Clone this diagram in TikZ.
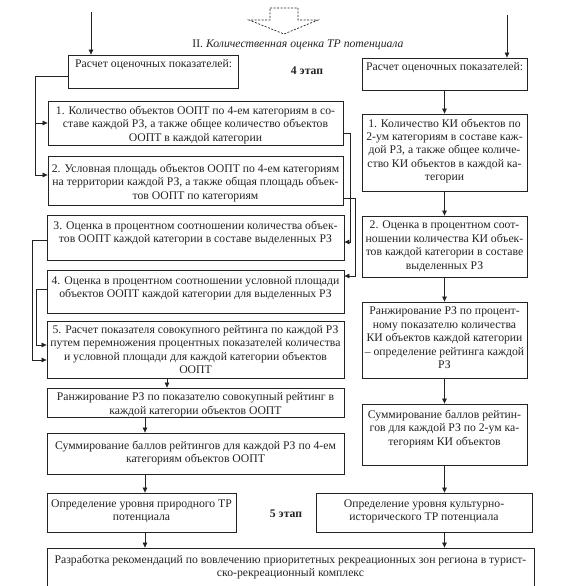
\documentclass[tikz,border=0pt]{standalone}
\usepackage{fontspec}
\setmainfont{Liberation Serif}
\usetikzlibrary{arrows.meta}
\definecolor{ink}{RGB}{35,35,35}
\newcommand\fsz{\fontsize{11.7}{13.4}\selectfont}
\tikzset{
  bx/.style={draw=ink, line width=0.8pt, inner sep=0pt},
  tx/.style={anchor=north, align=center, inner sep=0pt, font=\fsz, text=ink},
  ln/.style={draw=ink, line width=0.7pt},
  arr/.style={ln, -{Triangle[length=5pt,width=4.5pt]}},
}
\begin{document}
\begin{tikzpicture}[x=1pt,y=-1pt]
\useasboundingbox (0,0) rectangle (585,586);
\clip (0,0) rectangle (585,586);
% header
\draw[ink, line width=0.7pt, dash pattern=on 2pt off 1.5pt]
  (270,8) -- (298,8) -- (298,20) -- (318,20) -- (284,34) -- (249,20) -- (270,20) -- cycle;
\node[font=\fsz, text=ink, inner sep=0pt] (hdr) at (298,45) {II. \textit{Количественная оценка ТР потенциала}};
\node[font=\fsz\bfseries, text=ink, inner sep=0pt] (st4) at (307,71) {4 этап};
\node[font=\fsz\bfseries, text=ink, inner sep=0pt] (st5) at (286,514) {5 этап};

% left column boxes
\node[bx, minimum width=170pt, minimum height=33pt] (lb0) at (153,71.5) {};
\node[tx, anchor=north west] (tlb0) at (75,59) {Расчет оценочных показателей:};

\node[bx, minimum width=295pt, minimum height=44pt] (b1) at (195.5,123) {};
\node[tx] (tb1) at (195.5,106) {1. Количество объектов ООПТ по 4-ем категориям в со-\\ставе каждой РЗ, а также общее количество объектов\\ООПТ в каждой категории};

\node[bx, minimum width=295pt, minimum height=49pt] (b2) at (195.5,180.5) {};
\node[tx] (tb2) at (195.5,164) {2. Условная площадь объектов ООПТ по 4-ем категориям\\на территории каждой РЗ, а также общая площадь объек-\\тов ООПТ по категориям};

\node[bx, minimum width=297pt, minimum height=45pt] (b3) at (195.5,237.5) {};
\node[tx] (tb3) at (195.5,221) {3. Оценка в процентном соотношении количества объек-\\тов ООПТ каждой категории в составе выделенных РЗ};

\node[bx, minimum width=297pt, minimum height=43pt] (b4) at (195.5,291.5) {};
\node[tx] (tb4) at (195.5,276) {4. Оценка в процентном соотношении условной площади\\объектов ООПТ каждой категории для выделенных РЗ};

\node[bx, minimum width=297pt, minimum height=57pt] (b5) at (195.5,349.5) {};
\node[tx] (tb5) at (195.5,325) {5. Расчет показателя совокупного рейтинга по каждой РЗ\\путем перемножения процентных показателей количества\\и условной площади для каждой категории объектов\\ООПТ};

\node[bx, minimum width=297pt, minimum height=29pt] (rk) at (195.5,402.5) {};
\node[tx] (trk) at (195.5,392.5) {Ранжирование РЗ по показателю совокупный рейтинг в\\каждой категории объектов ООПТ};

\node[bx, minimum width=297pt, minimum height=41pt] (sm) at (195.5,453.5) {};
\node[tx] (tsm) at (195.5,441) {Суммирование баллов рейтингов для каждой РЗ по 4-ем\\категориям объектов ООПТ};

\node[bx, minimum width=189pt, minimum height=39pt] (lo) at (141.5,512.5) {};
\node[tx] (tlo) at (141.5,499.5) {Определение уровня природного ТР\\потенциала};

\node[bx, minimum width=216pt, minimum height=39pt] (ro) at (424,512.5) {};
\node[tx] (tro) at (424,499.5) {Определение уровня культурно-\\исторического ТР потенциала};

\node[bx, minimum width=487pt, minimum height=52pt] (bt) at (290.5,574) {};
\node[tx] (tbt) at (290.5,555) {Разработка рекомендаций по вовлечению приоритетных рекреационных зон региона в турист-\\ско-рекреационный комплекс};

% right column boxes
\node[bx, minimum width=165pt, minimum height=32pt] (rb0) at (444.5,74) {};
\node[tx, anchor=north west] (trb0) at (366,62) {Расчет оценочных показателей:};

\node[bx, minimum width=165pt, minimum height=77pt] (rb1) at (444.5,152.5) {};
\node[tx] (trb1) at (444.5,118.5) {1. Количество КИ объектов по\\2-ум категориям в составе каж-\\дой РЗ, а также общее количе-\\ство КИ объектов в каждой ка-\\тегории};

\node[bx, minimum width=165pt, minimum height=61pt] (rb2) at (444.5,246.5) {};
\node[tx] (trb2) at (444.5,221) {2. Оценка в процентном соот-\\ношении количества КИ объек-\\тов каждой категории в составе\\выделенных РЗ};

\node[bx, minimum width=165pt, minimum height=76pt] (rb3) at (444.5,340) {};
\node[tx] (trb3) at (444.5,307) {Ранжирование РЗ по процент-\\ному показателю количества\\КИ объектов каждой категории\\– определение рейтинга каждой\\РЗ};

\node[bx, minimum width=165pt, minimum height=61pt] (rb4) at (444.5,434.5) {};
\node[tx] (trb4) at (444.5,410) {Суммирование баллов рейтин-\\гов для каждой РЗ по 2-ум ка-\\тегориям КИ объектов};

% connectors
\coordinate (s1) at (91,12);
\coordinate (s2) at (507,15);
\draw[arr] (s1) -- (s1 |- lb0.north);
\draw[arr] (s2) -- (s2 |- rb0.north);

\coordinate (c0) at (35,76);
\draw[ln] ([yshift=-4.5pt]lb0.west) -- (c0);
\draw[arr] (c0) |- (b1.west);
\draw[arr] (c0) |- ([yshift=5.5pt]b2.west);

\draw[arr] ([yshift=-10pt]b1.east) -- ++(7,0) |- ([yshift=-4.5pt]b3.east);
\draw[arr] ([yshift=-17.5pt]b2.east) -- ++(12,0) |- ([yshift=15.5pt]b4.east);

\draw[arr] ([yshift=-2.5pt]b3.west) -- ++(-14,0) |- ([yshift=-10.5pt]b5.west);
\draw[arr] ([yshift=2.5pt]b4.west) -- ++(-10,0) |- ([yshift=4.5pt]b5.west);

\draw[arr] ([xshift=-28.5pt]b5.south) -- ([xshift=-28.5pt]b5.south |- rk.north);
\draw[arr] ([xshift=-50.5pt]rk.south) -- ([xshift=-50.5pt]rk.south |- sm.north);
\draw[arr] ([xshift=-50.5pt]sm.south) -- ([xshift=-50.5pt]sm.south |- lo.north);
\draw[arr] ([xshift=3.5pt]lo.south) -- ([xshift=3.5pt]lo.south |- bt.north);

\draw[arr] (rb0.south) -- (rb1.north);
\draw[arr] (rb1.south) -- (rb2.north);
\draw[arr] (rb2.south) -- (rb3.north);
\draw[arr] (rb3.south) -- (rb4.north);
\draw[arr] (rb4.south) -- (rb4.south |- ro.north);
\draw[arr] ([xshift=20.5pt]ro.south) -- ([xshift=20.5pt]ro.south |- bt.north);
\end{tikzpicture}
\end{document}
